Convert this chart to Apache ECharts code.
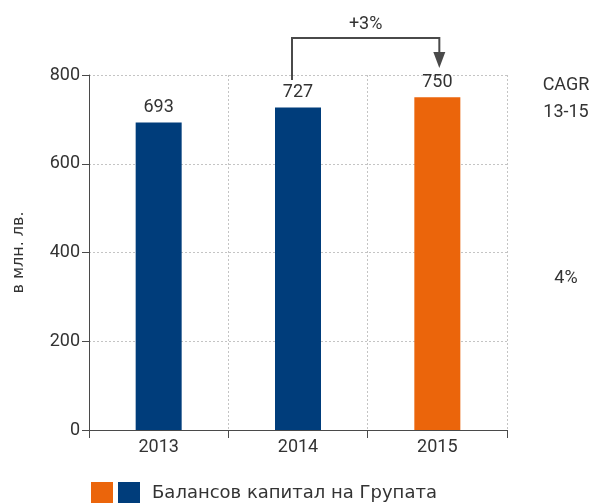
<!DOCTYPE html>
<html>
<head>
<meta charset="utf-8">
<script src="https://cdn.jsdelivr.net/npm/echarts@6/dist/echarts.min.js"></script>
<style>
html,body{margin:0;padding:0;background:#fff;}
#c{width:594px;height:503px;}
</style>
</head>
<body>
<div id="c"></div>
<script>
const categories = ['2013', '2014', '2015'];
const values = [693, 727, 750];
const yTicks = [0, 200, 400, 600, 800];
const seriesName = 'Балансов капитал на Групата';
const yAxisName = 'в млн. лв.';
const changeLabel = '+3%';
const cagrTitle = ['CAGR', '13-15'];
const cagrValue = '4%';

const BLUE = '#003d7b';
const ORANGE = '#eb650b';
const TEXT = '#333333';
const AXIS = '#4a4a4a';
const FONT = 'Roboto';
const WIDE = 'DejaVu Sans';

const chart = echarts.init(document.getElementById('c'), null, {renderer: 'canvas'});

const option = {
  animation: false,
  textStyle: {fontFamily: FONT, color: TEXT},
  grid: {left: 89, right: 87, top: 75, bottom: 73, containLabel: false},
  legend: {
    left: 86, top: 477,
    itemWidth: 22, itemHeight: 22, itemGap: 5,
    icon: 'rect',
    data: ['orange', seriesName],
    selectedMode: false,
    formatter: function (n) { return n === 'orange' ? '' : '{t|' + n + '}'; },
    textStyle: {
      fontFamily: WIDE, fontSize: 18, color: TEXT,
      rich: {t: {fontFamily: WIDE, fontSize: 18, color: TEXT, padding: [0, 0, 0, 7]}}
    }
  },
  xAxis: {
    type: 'category',
    data: categories,
    axisLine: {show: true, lineStyle: {color: AXIS, width: 1}},
    axisTick: {show: true, alignWithLabel: false, length: 8, lineStyle: {color: AXIS}},
    axisLabel: {fontFamily: FONT, fontSize: 18, color: TEXT, margin: 8},
    splitLine: {show: true, lineStyle: {color: '#c4c4c4', type: [2, 2], width: 1}}
  },
  yAxis: {
    type: 'value',
    min: yTicks[0], max: yTicks[yTicks.length - 1], interval: yTicks[1] - yTicks[0],
    name: yAxisName,
    nameLocation: 'middle',
    nameRotate: 90,
    nameGap: 62,
    nameTextStyle: {fontFamily: WIDE, fontSize: 16, color: TEXT},
    axisLine: {show: true, lineStyle: {color: AXIS, width: 1}},
    axisTick: {show: true, length: 7, lineStyle: {color: AXIS}},
    axisLabel: {fontFamily: FONT, fontSize: 18, color: TEXT, margin: 9},
    splitLine: {show: true, lineStyle: {color: '#c4c4c4', type: [2, 2], width: 1}}
  },
  series: [
    {
      name: 'orange', type: 'bar', stack: 's', data: [],
      itemStyle: {color: ORANGE}
    },
    {
      name: seriesName, type: 'bar', stack: 's', barWidth: 46,
      itemStyle: {color: BLUE},
      label: {show: true, position: 'top', distance: 6, fontFamily: FONT, fontSize: 18, color: TEXT},
      data: values.map(function (v, i) {
        return i === values.length - 1 ? {value: v, itemStyle: {color: ORANGE}} : v;
      })
    }
  ]
};
chart.setOption(option);

// annotation arrow from 2014 to 2015, placed via axis conversions
const p14 = chart.convertToPixel({xAxisIndex: 0, yAxisIndex: 0}, [categories[1], yTicks[yTicks.length - 1]]);
const p15 = chart.convertToPixel({xAxisIndex: 0, yAxisIndex: 0}, [categories[2], yTicks[yTicks.length - 1]]);
const topY = p14[1] - 37;
const x1 = p14[0] - 6, x2 = p15[0] + 2;
chart.setOption({
  graphic: [
    {type: 'polyline', shape: {points: [[x1, p14[1] + 5], [x1, topY], [x2, topY], [x2, topY + 14]]},
     style: {stroke: AXIS, lineWidth: 2, fill: null}},
    {type: 'polygon', shape: {points: [[x2 - 6, topY + 14], [x2 + 6, topY + 14], [x2, topY + 30]]},
     style: {fill: AXIS}},
    {type: 'text', x: (x1 + x2) / 2, y: topY - 14,
     style: {text: changeLabel, fontFamily: FONT, fontSize: 18, fill: TEXT, align: 'center', verticalAlign: 'middle'}},
    {type: 'text', x: 566, y: 85,
     style: {text: cagrTitle[0], fontFamily: FONT, fontSize: 18, fill: TEXT, align: 'center', verticalAlign: 'middle'}},
    {type: 'text', x: 566, y: 112,
     style: {text: cagrTitle[1], fontFamily: FONT, fontSize: 18, fill: TEXT, align: 'center', verticalAlign: 'middle'}},
    {type: 'text', x: 566, y: 278,
     style: {text: cagrValue, fontFamily: FONT, fontSize: 18, fill: TEXT, align: 'center', verticalAlign: 'middle'}}
  ]
});
</script>
</body>
</html>
